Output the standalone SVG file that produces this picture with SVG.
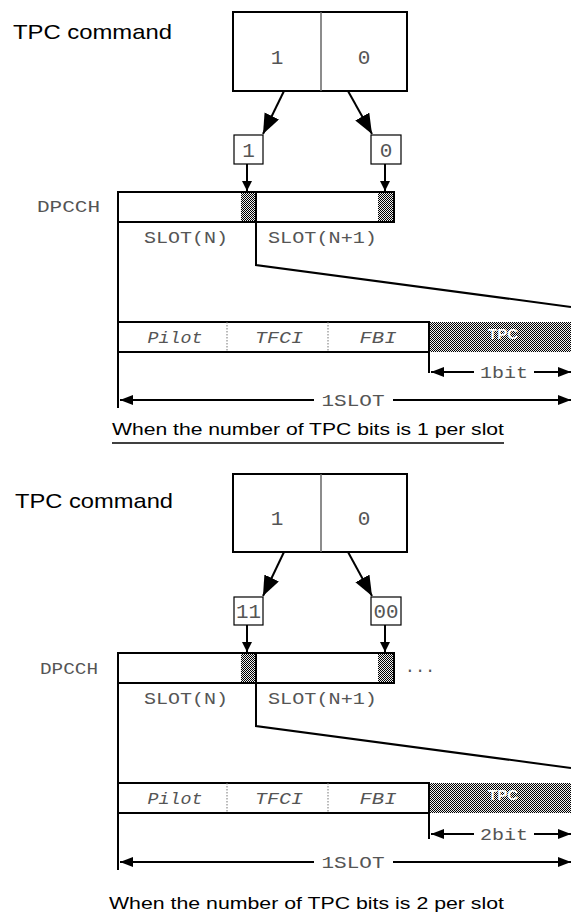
<svg xmlns="http://www.w3.org/2000/svg" width="571" height="921" viewBox="0 0 571 921">
<style>
.title{font-family:"Liberation Sans",Arial,sans-serif;font-size:21px;fill:#000}
.cap{font-family:"Liberation Sans",Arial,sans-serif;font-size:17px;fill:#000}
.mono{font-family:"Liberation Mono","Courier New",monospace;font-size:17px;fill:#555}
.num{font-family:"Liberation Mono","Courier New",monospace;font-size:21px;fill:#555}
.ital{font-family:"Liberation Mono","Courier New",monospace;font-size:17px;font-style:italic;fill:#555}
.ln{stroke:#000;stroke-width:2;fill:none}
.box{stroke:#000;stroke-width:2;fill:#fff}
.dot{stroke:#777;stroke-width:1;stroke-dasharray:1.5,1.5}
.tpc{font-family:"Liberation Sans",Arial,sans-serif;font-size:15px;font-weight:bold;fill:#fff}
.big{marker-end:url(#bigHead)}
.small{marker-end:url(#smallHead)}
.dim{marker-start:url(#dimHead);marker-end:url(#dimHead)}
</style>
<defs>
<pattern id="chk" width="2" height="2" patternUnits="userSpaceOnUse">
<rect width="2" height="2" fill="#eee"/>
<rect width="1" height="1" fill="#000"/>
<rect x="1" y="1" width="1" height="1" fill="#000"/>
</pattern>
<marker id="bigHead" markerUnits="userSpaceOnUse" markerWidth="22" markerHeight="18" refX="20" refY="8" orient="auto"><path d="M0,0 L20,8 L0,16 z" fill="#000"/></marker>
<marker id="smallHead" markerUnits="userSpaceOnUse" markerWidth="12" markerHeight="12" refX="10" refY="5" orient="auto"><path d="M0,0 L10,5 L0,10 z" fill="#000"/></marker>
<marker id="dimHead" markerUnits="userSpaceOnUse" markerWidth="15" markerHeight="12" refX="13" refY="5" orient="auto-start-reverse"><path d="M0,0 L13,5 L0,10 z" fill="#000"/></marker>
</defs>

<g id="section1">
<text class="title" x="13" y="39" textLength="159" lengthAdjust="spacingAndGlyphs">TPC command</text>
<g id="cmdbox1">
<rect class="box" x="233" y="12" width="174" height="79"/>
<line x1="321" y1="12" x2="321" y2="91" stroke="#666" stroke-width="1.5"/>
<text class="num" x="277" y="64" text-anchor="middle">1</text>
<text class="num" x="364" y="64" text-anchor="middle">0</text>
</g>
<g id="bit1a"><rect x="234" y="135" width="29" height="29" fill="#fff" stroke="#000" stroke-width="1.2"/><text class="num" x="248.5" y="157" text-anchor="middle">1</text></g>
<g id="bit1b"><rect x="371" y="135" width="30" height="29" fill="#fff" stroke="#000" stroke-width="1.2"/><text class="num" x="386" y="157" text-anchor="middle">0</text></g>
<text class="mono" x="37" y="212" textLength="63" lengthAdjust="spacingAndGlyphs">DPCCH</text>
<g id="dpcch1">
<rect x="118" y="192" width="276" height="30" fill="#fff"/>
<rect x="241" y="192" width="15" height="30" fill="url(#chk)"/>
<rect x="378" y="192" width="16" height="30" fill="url(#chk)"/>
<rect x="118" y="192" width="276" height="30" class="ln"/>
</g>
<text class="mono" x="144" y="243" textLength="84" lengthAdjust="spacingAndGlyphs">SLOT(N)</text>
<text class="mono" x="268" y="243" textLength="109" lengthAdjust="spacingAndGlyphs">SLOT(N+1)</text>
<g id="fields1">
<rect x="429" y="322" width="142" height="30" fill="url(#chk)"/>
<text class="tpc" x="503" y="339" text-anchor="middle">TPC</text>
<path class="ln" d="M118,322 H429 V373 M118,352 H429"/>
<line class="dot" x1="227" y1="322" x2="227" y2="352"/>
<line class="dot" x1="328" y1="322" x2="328" y2="352"/>
<text class="ital" x="175" y="343" text-anchor="middle" textLength="55" lengthAdjust="spacingAndGlyphs">Pilot</text>
<text class="ital" x="279" y="343" text-anchor="middle" textLength="48" lengthAdjust="spacingAndGlyphs">TFCI</text>
<text class="ital" x="378" y="343" text-anchor="middle" textLength="37" lengthAdjust="spacingAndGlyphs">FBI</text>
</g>
<text class="cap" x="112" y="435" textLength="392" lengthAdjust="spacingAndGlyphs">When the number of TPC bits is 1 per slot</text>
<line x1="112" y1="443" x2="504" y2="443" stroke="#000" stroke-width="1.5"/>
</g>

<g id="section2">
<text class="title" x="15" y="508" textLength="158" lengthAdjust="spacingAndGlyphs">TPC command</text>
<g id="cmdbox2">
<rect class="box" x="233" y="474" width="174" height="78"/>
<line x1="321" y1="474" x2="321" y2="552" stroke="#666" stroke-width="1.5"/>
<text class="num" x="277" y="525" text-anchor="middle">1</text>
<text class="num" x="364" y="525" text-anchor="middle">0</text>
</g>
<g id="bit2a"><rect x="234" y="597" width="29" height="28" fill="#fff" stroke="#000" stroke-width="1.2"/><text class="num" x="248.5" y="618" text-anchor="middle" textLength="25" lengthAdjust="spacingAndGlyphs">11</text></g>
<g id="bit2b"><rect x="371" y="597" width="30" height="28" fill="#fff" stroke="#000" stroke-width="1.2"/><text class="num" x="386" y="618" text-anchor="middle" textLength="25" lengthAdjust="spacingAndGlyphs">00</text></g>
<text class="mono" x="40" y="674" textLength="58" lengthAdjust="spacingAndGlyphs">DPCCH</text>
<g id="dpcch2">
<rect x="118" y="653" width="276" height="30" fill="#fff"/>
<rect x="241" y="653" width="15" height="30" fill="url(#chk)"/>
<rect x="378" y="653" width="16" height="30" fill="url(#chk)"/>
<rect x="118" y="653" width="276" height="30" class="ln"/>
</g>
<text class="mono" x="420" y="672" text-anchor="middle">...</text>
<text class="mono" x="144" y="704" textLength="84" lengthAdjust="spacingAndGlyphs">SLOT(N)</text>
<text class="mono" x="268" y="704" textLength="109" lengthAdjust="spacingAndGlyphs">SLOT(N+1)</text>
<g id="fields2">
<rect x="429" y="783" width="142" height="30" fill="url(#chk)"/>
<text class="tpc" x="503" y="800" text-anchor="middle">TPC</text>
<path class="ln" d="M118,783 H429 V839 M118,813 H429"/>
<line class="dot" x1="227" y1="783" x2="227" y2="813"/>
<line class="dot" x1="328" y1="783" x2="328" y2="813"/>
<text class="ital" x="175" y="804" text-anchor="middle" textLength="55" lengthAdjust="spacingAndGlyphs">Pilot</text>
<text class="ital" x="279" y="804" text-anchor="middle" textLength="48" lengthAdjust="spacingAndGlyphs">TFCI</text>
<text class="ital" x="378" y="804" text-anchor="middle" textLength="37" lengthAdjust="spacingAndGlyphs">FBI</text>
</g>
<text class="cap" x="109" y="909" textLength="395" lengthAdjust="spacingAndGlyphs">When the number of TPC bits is 2 per slot</text>
</g>

<g id="connectors">
<line class="ln big" x1="284" y1="91" x2="263" y2="134"/>
<line class="ln big" x1="348" y1="91" x2="372" y2="134"/>
<line class="ln small" x1="247" y1="164" x2="247" y2="191"/>
<line class="ln small" x1="385" y1="164" x2="385" y2="191"/>
<path class="ln" d="M256,192 V265 L571,307"/>
<line class="ln" x1="118" y1="222" x2="118" y2="408"/>
<line class="ln dim" x1="431" y1="372" x2="571" y2="372"/>
<rect x="474" y="362" width="60" height="20" fill="#fff"/>
<text class="mono" x="504" y="378" text-anchor="middle" textLength="48" lengthAdjust="spacingAndGlyphs">1bit</text>
<line class="ln dim" x1="120" y1="400" x2="571" y2="400"/>
<rect x="314" y="390" width="79" height="20" fill="#fff"/>
<text class="mono" x="353" y="406" text-anchor="middle" textLength="63" lengthAdjust="spacingAndGlyphs">1SLOT</text>

<line class="ln big" x1="284" y1="552" x2="263" y2="596"/>
<line class="ln big" x1="348" y1="552" x2="372" y2="596"/>
<line class="ln small" x1="247" y1="625" x2="247" y2="652"/>
<line class="ln small" x1="385" y1="625" x2="385" y2="652"/>
<path class="ln" d="M256,653 V726 L571,768"/>
<line class="ln" x1="118" y1="683" x2="118" y2="870"/>
<line class="ln dim" x1="431" y1="834" x2="571" y2="834"/>
<rect x="474" y="824" width="60" height="20" fill="#fff"/>
<text class="mono" x="504" y="840" text-anchor="middle" textLength="48" lengthAdjust="spacingAndGlyphs">2bit</text>
<line class="ln dim" x1="120" y1="862" x2="571" y2="862"/>
<rect x="314" y="852" width="79" height="20" fill="#fff"/>
<text class="mono" x="353" y="868" text-anchor="middle" textLength="63" lengthAdjust="spacingAndGlyphs">1SLOT</text>
</g>
</svg>
